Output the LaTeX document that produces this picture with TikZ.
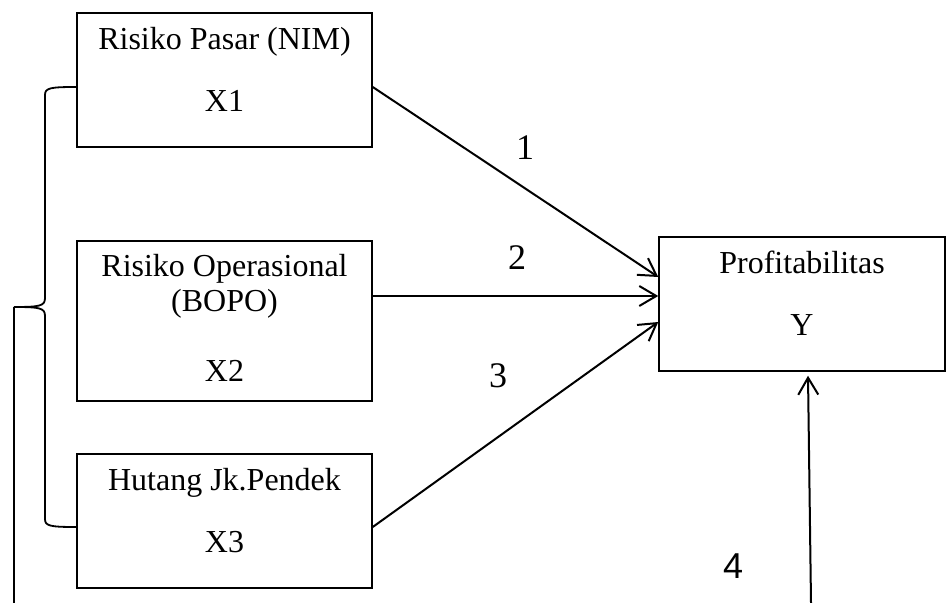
\documentclass[tikz,border=0pt]{standalone}
\usepackage{fontspec}
\setmainfont{Liberation Serif}
\newfontfamily\numfont{Liberation Sans}
\usetikzlibrary{arrows.meta}

\begin{document}
\begin{tikzpicture}[x=0.5pt,y=-0.5pt,
		box/.style={draw,line width=0.75pt,minimum width=147.5pt,minimum height=67pt,text depth=11pt,align=center,font=\fontsize{16}{17.5}\selectfont},
		link/.style={line width=1pt,-{Straight Barb[length=8.5pt,width=10pt]}},
		num/.style={font=\fontsize{18}{20}\selectfont}]
					\useasboundingbox (0,0) rectangle (946,603);

					\node[box] (x1) at (224.5,80) {Risiko Pasar (NIM)\\[13.5pt]X1};
					\node[box,minimum height=80pt,text depth=3pt] (x2) at (224.5,321) {Risiko Operasional\\(BOPO)\\[17.5pt]X2};
					\node[box] (x3) at (224.5,521) {Hutang Jk.Pendek\\[13.5pt]X3};
					\node[box,minimum width=143pt] (y) at (802,304) {Profitabilitas\\[13.5pt]Y};

					\coordinate (tip) at (14,307);
					\coordinate (low) at (14,603);
					\coordinate (foot) at (811,603);

					\draw[link] ([yshift=-3.5pt]x1.east) -- ([yshift=13.5pt]y.west);
					\draw[link] ([yshift=12.5pt]x2.east) -- ([yshift=4pt]y.west);
					\draw[link] ([yshift=-3pt]x3.east) -- ([yshift=-9pt]y.west);
					\draw[link] (foot) -- ([xshift=3pt,yshift=-2pt]y.south);

					\draw[line width=0.9pt] ([yshift=-3.5pt]x1.west) .. controls (50,87) and (45,88) .. (45,95) -- (45,298)
						.. controls (45,306) and (40,307) .. (tip) .. controls (40,307) and (45,308) .. (45,316) -- (45,519)
						.. controls (45,526) and (50,527) .. ([yshift=-3pt]x3.west);
					\draw[line width=0.9pt] (tip) -- (low);

					\node[num] (n1) at (525,148) {1};
					\node[num] (n2) at (517,258) {2};
					\node[num] (n3) at (498,376) {3};
					\node[num,font=\fontsize{18}{20}\numfont] (n4) at (733,566) {4};
				\end{tikzpicture}
\end{document}
